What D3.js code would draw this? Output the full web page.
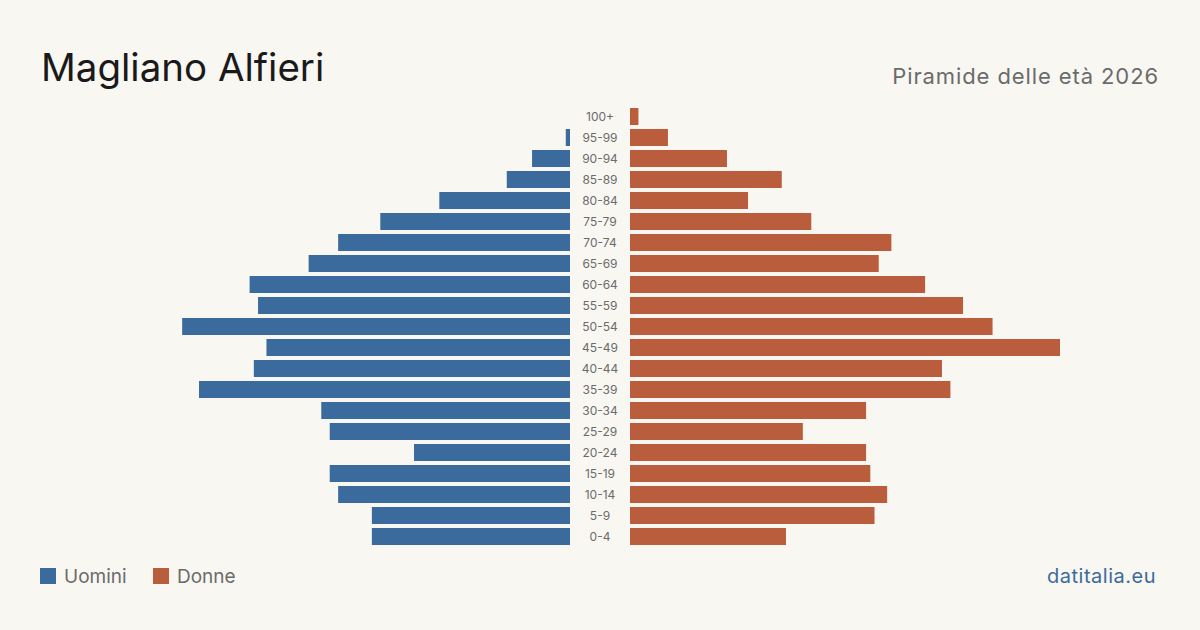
<!DOCTYPE html>
<html><head><meta charset="utf-8">
<script src="https://cdn.jsdelivr.net/npm/d3@7"></script>
<style>
html,body{margin:0;padding:0;background:#f9f7f2;}
svg{display:block;font-family:Inter,"Noto Sans",sans-serif;}
</style></head><body>
<svg id="c" width="1200" height="630"></svg>
<script>
const ageGroups = ["100+","95-99","90-94","85-89","80-84","75-79","70-74","65-69","60-64","55-59","50-54","45-49","40-44","35-39","30-34","25-29","20-24","15-19","10-14","5-9","0-4"];
const males   = [0,1,9,15,31,45,55,62,76,74,92,72,75,88,59,57,37,57,55,47,47];
const females = [2,9,23,36,28,43,62,59,70,79,86,102,74,76,56,41,56,57,61,58,37];
const title = "Magliano Alfieri";
const subtitle = "Piramide delle età 2026";
const legendLabels = ["Uomini","Donne"];
const source = "datitalia.eu";

const W = 1200, H = 630;
const blue = "#3b6b9c", red = "#b95d3d";
const svg = d3.select("#c");
svg.append("rect").attr("width",W).attr("height",H).attr("fill","#f9f7f2");

const cx = 600, gap = 30;
const maxV = d3.max(males.concat(females));
const xL = d3.scaleLinear().domain([0,maxV]).range([cx-gap, cx-gap-430]);
const xR = d3.scaleLinear().domain([0,maxV]).range([cx+gap, cx+gap+430]);
const y = d3.scaleBand().domain(ageGroups).range([106, 547]).paddingInner(0.19).paddingOuter(0.095);

svg.append("g").selectAll("rect").data(ageGroups).join("rect")
  .attr("x",(d,i)=>xL(males[i])).attr("y",d=>y(d))
  .attr("width",(d,i)=>xL(0)-xL(males[i])).attr("height",y.bandwidth())
  .attr("fill",blue);
svg.append("g").selectAll("rect").data(ageGroups).join("rect")
  .attr("x",xR(0)).attr("y",d=>y(d))
  .attr("width",(d,i)=>xR(females[i])-xR(0)).attr("height",y.bandwidth())
  .attr("fill",red);

svg.append("g").selectAll("text").data(ageGroups).join("text")
  .attr("x",cx).attr("y",d=>y(d)+y.bandwidth()/2)
  .attr("dy","0.35em").attr("text-anchor","middle")
  .attr("font-size",12).attr("fill","#6b6b6b").text(d=>d);

svg.append("text").attr("x",41).attr("y",81).attr("font-size",38.5).attr("fill","#1a1a1a").text(title);
svg.append("text").attr("x",1159).attr("y",84).attr("text-anchor","end").attr("font-size",22).attr("letter-spacing","0.9px").attr("fill","#6b6b6b").text(subtitle);

const lg = svg.append("g");
[[40,blue,legendLabels[0],64],[153,red,legendLabels[1],177]].forEach(([x,c,t,tx])=>{
  lg.append("rect").attr("x",x).attr("y",568).attr("width",16).attr("height",16).attr("fill",c);
  lg.append("text").attr("x",tx).attr("y",583).attr("font-size",19).attr("fill","#6b6b6b").text(t);
});
svg.append("text").attr("x",1156).attr("y",583).attr("text-anchor","end").attr("font-size",20).attr("letter-spacing","0.5px").attr("fill",blue).text(source);
</script>
</body></html>
